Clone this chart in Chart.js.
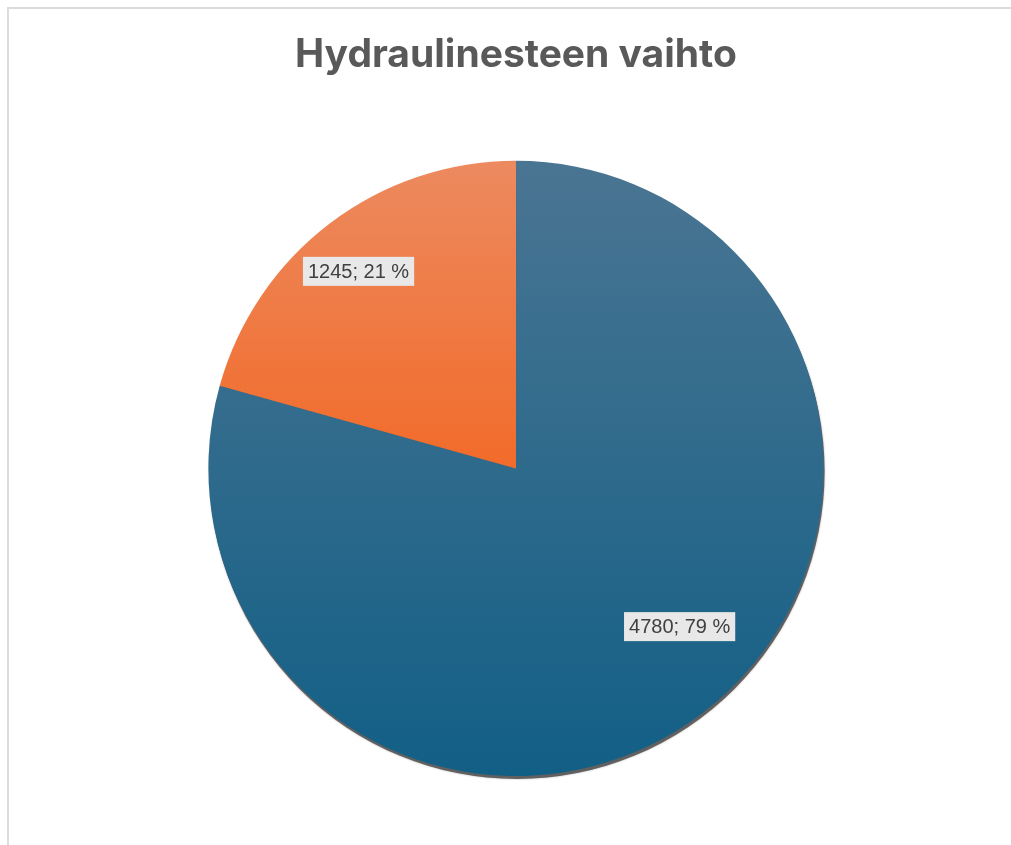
<!DOCTYPE html>
<html>
<head>
<meta charset="utf-8">
<script src="https://cdn.jsdelivr.net/npm/chart.js@4.4.1/dist/chart.umd.min.js"></script>
<style>
  html, body { margin: 0; padding: 0; background: #fff; }
  #wrap { position: relative; width: 1011px; height: 845px; overflow: hidden; }
  #frame { position: absolute; left: 7px; top: 7px; width: 1100px; height: 900px;
           border-left: 2px solid #dcdcdc; border-top: 2px solid #dcdcdc; }
  canvas { position: absolute; left: 0; top: 0; }
</style>
</head>
<body>
<div id="wrap">
  <div id="frame"></div>
  <canvas id="pieChart" width="1011" height="845"></canvas>
</div>
<script>
const chartTitle = "Hydraulinesteen vaihto";
const categories = ["Vaihdettu", "Ei vaihdettu"];
const values = [4780, 1245];

// gradient stops (top, bottom) per slice
const topColors = ["#4a7592", "#ec8a5f"];
const bottomColors = ["#125f86", "#f26b2a"];

const total = values.reduce((a, b) => a + b, 0);

const makeGradient = (context) => {
    const chart = context.chart;
    const area = chart.chartArea;
    if (!area) return topColors[context.dataIndex];
    const i = context.dataIndex;
    const cy = (area.top + area.bottom) / 2;
    // orange slice only covers the upper half, its gradient follows its own box
    const bottom = i === 1 ? cy : area.bottom;
    const g = chart.ctx.createLinearGradient(0, area.top, 0, bottom);
    g.addColorStop(0, topColors[i]);
    g.addColorStop(1, bottomColors[i]);
    return g;
};

const pieShadow = {
    id: "pieShadow",
    beforeDatasetsDraw(chart) {
        const arc = chart.getDatasetMeta(0).data[0];
        if (!arc) return;
        const { x, y, outerRadius } = arc.getProps(["x", "y", "outerRadius"], true);
        const ctx = chart.ctx;
        ctx.save();
        ctx.fillStyle = "#606060";
        ctx.shadowColor = "rgba(0,0,0,0.35)";
        ctx.shadowBlur = 2;
        ctx.beginPath();
        ctx.arc(x + 1, y + 3, outerRadius, 0, Math.PI * 2);
        ctx.fill();
        ctx.restore();
    }
};

const sliceLabels = {
    id: "sliceLabels",
    afterDatasetsDraw(chart, args, opts) {
        const ctx = chart.ctx;
        const meta = chart.getDatasetMeta(0);
        ctx.save();
        ctx.font = "20px 'Liberation Sans'";
        ctx.textAlign = "center";
        ctx.textBaseline = "middle";
        meta.data.forEach((arc, i) => {
            const p = arc.getProps(["x", "y", "startAngle", "endAngle", "outerRadius"], true);
            const mid = (p.startAngle + p.endAngle) / 2 + opts.angleShift[i];
            const r = p.outerRadius * opts.radiusFrac[i];
            const lx = p.x + Math.cos(mid) * r;
            const ly = p.y + Math.sin(mid) * r;
            const pct = Math.round(values[i] / total * 100);
            const text = values[i] + "; " + pct + " %";
            const w = ctx.measureText(text).width + 10;
            const h = 29;
            ctx.fillStyle = "#e8e8e8";
            ctx.fillRect(lx - w / 2, ly - h / 2, w, h);
            ctx.fillStyle = "#404040";
            ctx.fillText(text, lx, ly + 1);
        });
        ctx.restore();
    }
};

new Chart(document.getElementById("pieChart"), {
    type: "pie",
    data: {
        labels: categories,
        datasets: [{
            data: values,
            backgroundColor: makeGradient,
            borderWidth: 0,
            hoverOffset: 0
        }]
    },
    options: {
        responsive: false,
        animation: false,
        layout: { padding: { top: 0, bottom: 69, left: 21, right: 0 } },
        plugins: {
            legend: { display: false },
            tooltip: { enabled: false },
            title: {
                display: true,
                text: chartTitle,
                color: "#595959",
                font: { family: "Inter", size: 39, weight: "bold", lineHeight: 1.2 },
                padding: { top: 32, bottom: 82 }
            },
            sliceLabels: {
                radiusFrac: [0.74, 0.82],
                angleShift: [-0.153, -0.025]
            }
        }
    },
    plugins: [pieShadow, sliceLabels]
});
</script>
</body>
</html>
